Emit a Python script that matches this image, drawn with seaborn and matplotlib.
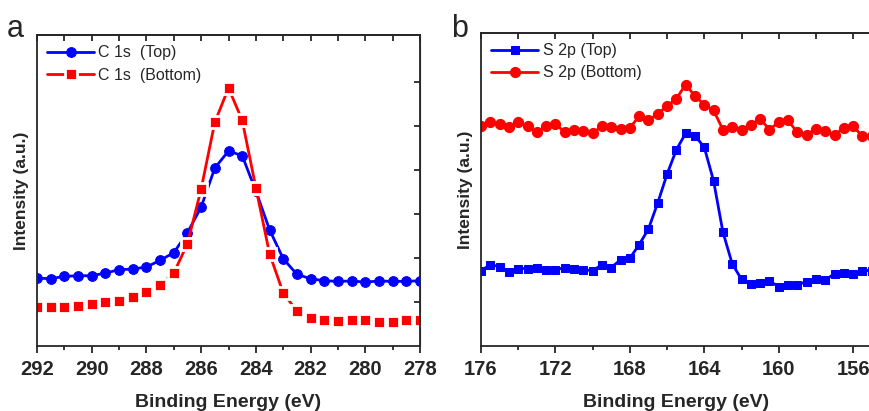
import numpy as np
import pandas as pd
import matplotlib
matplotlib.use("Agg")
import matplotlib.pyplot as plt
import seaborn as sns
from matplotlib.ticker import MultipleLocator, NullFormatter

# panel a: C 1s, 292 -> 278 eV, step 0.5
c1s_energy = [292 - 0.5 * i for i in range(29)]
c1s_top = [68.0, 67.3, 69.7, 70.3, 70.3, 73.0, 76.3, 77.0, 79.0, 85.7,
           93.3, 113.3, 139.0, 178.0, 195.0, 190.3, 155.0, 116.3, 87.3, 71.7,
           67.3, 65.3, 64.7, 65.0, 64.0, 65.0, 64.7, 64.7, 65.3]
c1s_bottom = [39.0, 38.7, 39.0, 40.0, 42.0, 43.7, 45.3, 49.3, 53.7, 61.0,
              73.0, 102.3, 157.0, 223.7, 258.0, 225.7, 158.3, 92.3, 53.0, 35.0,
              28.3, 26.3, 24.7, 25.7, 25.7, 24.3, 23.7, 25.7, 26.3]

# panel b: S 2p, 176 -> 155 eV, step 0.5
s2p_energy = [176 - 0.5 * i for i in range(43)]
s2p_top = [75.0, 80.7, 79.0, 74.0, 77.0, 77.0, 77.7, 75.7, 75.7, 78.0,
           76.3, 75.7, 75.0, 80.7, 78.0, 85.7, 87.3, 100.7, 116.3, 142.3,
           170.7, 195.0, 211.3, 209.0, 197.3, 164.0, 113.3, 81.7, 66.3, 61.7,
           62.3, 64.7, 59.0, 60.7, 60.7, 64.0, 66.3, 65.7, 71.7, 73.0,
           71.7, 75.0, 75.0]
s2p_bottom = [219.0, 222.3, 220.7, 217.3, 222.3, 218.3, 212.3, 218.3, 220.7, 212.3,
              215.0, 214.0, 211.3, 218.3, 218.0, 215.7, 216.7, 228.3, 224.0, 230.7,
              238.3, 245.7, 259.7, 248.3, 239.7, 234.0, 215.0, 218.0, 215.0, 219.7,
              225.7, 215.0, 222.3, 224.0, 212.3, 210.0, 215.7, 214.0, 209.7, 216.7,
              218.3, 208.3, 209.0]

df_a = pd.DataFrame({"energy": c1s_energy, "top": c1s_top, "bottom": c1s_bottom})
df_b = pd.DataFrame({"energy": s2p_energy, "top": s2p_top, "bottom": s2p_bottom})

sns.set_style("ticks")
plt.rcParams["font.family"] = ["Liberation Sans", "DejaVu Sans"]

BLUE = "#0000ff"
RED = "#ff0000"

fig = plt.figure(figsize=(8.7, 4.11), dpi=100)
ax_a = fig.add_axes([0.0425, 0.158, 0.4403, 0.757])
ax_b = fig.add_axes([0.5529, 0.158, 0.4491, 0.762])

sns.lineplot(data=df_a, x="energy", y="top", ax=ax_a, color=BLUE, marker="o",
             markersize=7, markeredgecolor=BLUE, linewidth=2, label="C 1s  (Top)")
sns.lineplot(data=df_a, x="energy", y="bottom", ax=ax_a, color=RED, marker="s",
             markersize=8.2, markeredgecolor="white", markeredgewidth=2,
             linewidth=2, label="C 1s  (Bottom)")

sns.lineplot(data=df_b, x="energy", y="top", ax=ax_b, color=BLUE, marker="s",
             markersize=5.5, markeredgecolor=BLUE, linewidth=2, label="S 2p (Top)")
sns.lineplot(data=df_b, x="energy", y="bottom", ax=ax_b, color=RED, marker="o",
             markersize=7.3, markeredgecolor=RED, linewidth=2, label="S 2p (Bottom)")

for ax, xl, maj in [(ax_a, (292, 278), 2), (ax_b, (176, 155), 4)]:
    ax.set_xlim(*xl)
    ax.set_ylim(0, 311)
    ax.xaxis.set_major_locator(MultipleLocator(maj))
    ax.xaxis.set_minor_locator(MultipleLocator(maj / 2))
    ax.tick_params(axis="x", which="major", direction="out", length=5, width=1.3,
                   labelsize=14.5, pad=5, top=False)
    ax.tick_params(axis="x", which="minor", direction="out", length=3, width=1.3, top=False)
    for lab in ax.get_xticklabels():
        lab.set_fontweight("bold")
    # inward ticks mirrored on the top spine
    sec = ax.secondary_xaxis("top")
    sec.xaxis.set_major_locator(MultipleLocator(maj))
    sec.xaxis.set_minor_locator(MultipleLocator(maj / 2))
    sec.xaxis.set_major_formatter(NullFormatter())
    sec.tick_params(which="both", direction="in", length=4, width=1.3)
    sec.spines["top"].set_linewidth(1.3)
    ax.set_yticks([])
    for s in ax.spines.values():
        s.set_linewidth(1.3)
        s.set_visible(True)
    ax.set_xlabel("Binding Energy (eV)", fontsize=14, fontweight="bold", labelpad=11)
    ax.set_ylabel("Intensity (a.u.)", fontsize=12.5, fontweight="bold", labelpad=6)
    leg = ax.legend(loc="upper left", frameon=False, fontsize=11.5, handlelength=2.9,
                    handletextpad=0.3, borderaxespad=0.25, labelspacing=0.45)

# right-side inward ticks on panel a
rax = ax_a.secondary_yaxis("right")
rax.set_yticks([44 * k for k in range(1, 7)])
rax.yaxis.set_major_formatter(NullFormatter())
rax.tick_params(direction="in", length=4, width=1.3)

fig.text(0.008, 0.965, "a", fontsize=22, va="top")
fig.text(0.518, 0.965, "b", fontsize=22, va="top")

fig.savefig("out.png", dpi=100)
